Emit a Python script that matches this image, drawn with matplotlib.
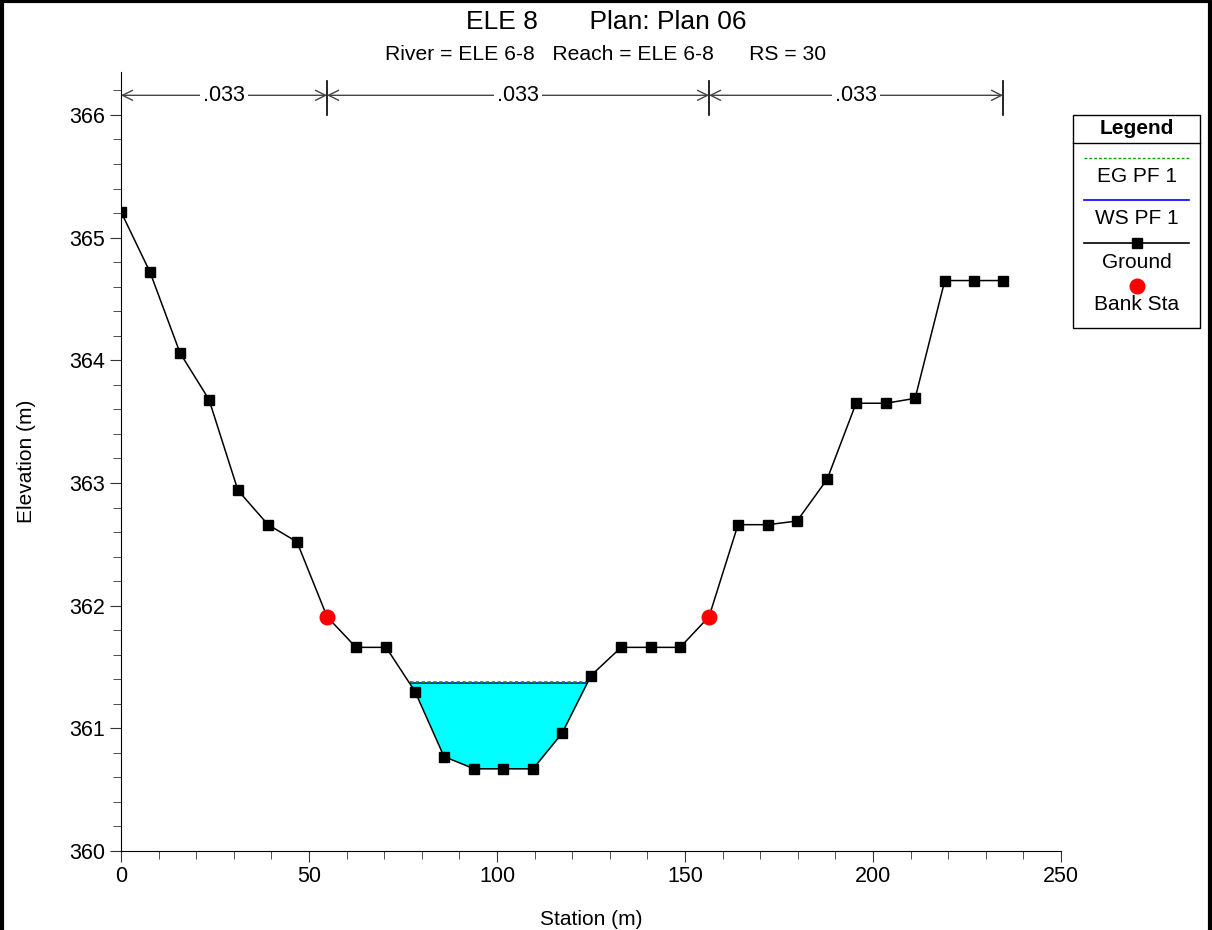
import numpy as np
import matplotlib.pyplot as plt
from matplotlib.lines import Line2D
from matplotlib.patches import Rectangle
from matplotlib.ticker import MultipleLocator

plt.rcParams['font.family'] = ['Liberation Sans', 'DejaVu Sans']

# ground profile (station, elevation)
station = [0.0, 7.7, 15.7, 23.4, 31.1, 39.1, 46.8, 54.8, 62.5, 70.5,
           78.2, 85.9, 93.9, 101.6, 109.6, 117.3, 125.0, 133.0, 141.0, 148.7,
           156.4, 164.1, 172.1, 179.8, 187.8, 195.5, 203.5, 211.2, 219.1, 226.9, 234.6]
elevation = [365.21, 364.72, 364.06, 363.68, 362.94, 362.66, 362.52, 361.91, 361.66, 361.66,
             361.30, 360.77, 360.67, 360.67, 360.67, 360.96, 361.43, 361.66, 361.66, 361.66,
             361.91, 362.66, 362.66, 362.69, 363.03, 363.65, 363.65, 363.69, 364.65, 364.65, 364.65]
bank_sta = [54.8, 156.4]
bank_elev = [361.91, 361.91]
ws_pf1 = 361.37
eg_pf1 = 361.38
mann_n = [".033", ".033", ".033"]

fig = plt.figure(figsize=(12.12, 9.3), dpi=100)
ax = fig.add_axes([121/1212, 79/930, 940/1212, 779/930])

x = np.array(station)
z = np.array(elevation)

# water fill between ground and WS
xf = np.linspace(x[0], x[-1], 4000)
zf = np.interp(xf, x, z)
wet = zf <= ws_pf1
ax.fill_between(xf, zf, ws_pf1, where=wet, color='#00FFFF', linewidth=0, zorder=1)
xw = xf[wet]
ax.plot([xw.min(), xw.max()], [ws_pf1, ws_pf1], color='#0000FF', lw=1.2, zorder=2)
ax.plot([xw.min(), xw.max()], [eg_pf1, eg_pf1], color='#00A000', lw=1.2, ls=(0, (2, 1.5)), zorder=3)

ax.plot(x, z, color='black', lw=1.1, marker='s', ms=6.5, zorder=4)
ax.plot(bank_sta, bank_elev, ls='none', marker='o', color='#FF0000', ms=10.5, zorder=5)

# Manning's n bars
bounds = [x[0], bank_sta[0], bank_sta[1], x[-1]]
y_n = 366.16
for b in bounds[1:]:
    ax.plot([b, b], [366.0, 366.28], color='black', lw=1.2, clip_on=False)
for i, n in enumerate(mann_n):
    a, b = bounds[i], bounds[i + 1]
    ax.annotate('', xy=(a, y_n), xytext=(b, y_n),
                arrowprops=dict(arrowstyle='<->', color='#444444', lw=1.0,
                                shrinkA=0, shrinkB=0, mutation_scale=18))
    ax.text((a + b) / 2, y_n, n, ha='center', va='center', fontsize=15.5,
            bbox=dict(facecolor='white', edgecolor='none', pad=2))

ax.set_xlim(0, 250)
ax.set_ylim(360, 366.35)
ax.xaxis.set_major_locator(MultipleLocator(50))
ax.xaxis.set_minor_locator(MultipleLocator(10))
ax.yaxis.set_major_locator(MultipleLocator(1))
ax.yaxis.set_minor_locator(MultipleLocator(0.2))
ax.tick_params(which='both', direction='out', labelsize=15.5, color='#333333')
ax.tick_params(which='major', length=8)
ax.tick_params(which='minor', length=6)
ax.tick_params(axis='x', pad=3)
for s in ['top', 'right']:
    ax.spines[s].set_visible(False)
ax.set_xlabel('Station (m)', fontsize=15, labelpad=16)
ax.set_ylabel('Elevation (m)', fontsize=15, labelpad=24)

fig.text(0.5, 908/930, 'ELE 8       Plan: Plan 06', ha='center', va='center', fontsize=19)
fig.text(0.5, 875/930, 'River = ELE 6-8   Reach = ELE 6-8      RS = 30', ha='center', va='center', fontsize=15.2)

# legend box drawn by hand (HEC-RAS style)
W, H = 1212, 930
def fx(px):
    return px / W
def fy(py):
    return 1 - py / H

fig.add_artist(Rectangle((fx(1073), fy(328)), fx(1200) - fx(1073), fy(115) - fy(328),
                         transform=fig.transFigure, fill=False, edgecolor='black', lw=1.0))
fig.add_artist(Line2D([fx(1073), fx(1200)], [fy(143), fy(143)], color='black', lw=1.0))
fig.text(fx(1137), fy(128), 'Legend', ha='center', va='center', fontsize=15, fontweight='bold')
fig.add_artist(Line2D([fx(1084), fx(1189)], [fy(158), fy(158)], color='#00A000', lw=1.0, ls=(0, (2, 1.5))))
fig.text(fx(1137), fy(177), 'EG PF 1', ha='center', va='center', fontsize=15)
fig.add_artist(Line2D([fx(1084), fx(1189)], [fy(200), fy(200)], color='#0000FF', lw=1.2))
fig.text(fx(1137), fy(219), 'WS PF 1', ha='center', va='center', fontsize=15)
fig.add_artist(Line2D([fx(1084), fx(1189)], [fy(243), fy(243)], color='black', lw=1.2))
fig.add_artist(Line2D([fx(1137)], [fy(243)], color='black', marker='s', ms=6.5, ls='none'))
fig.text(fx(1137), fy(262), 'Ground', ha='center', va='center', fontsize=15)
fig.add_artist(Line2D([fx(1137)], [fy(286)], color='#FF0000', marker='o', ms=10.5, ls='none'))
fig.text(fx(1137), fy(305), 'Bank Sta', ha='center', va='center', fontsize=15)

# outer frame
fig.add_artist(Line2D([fx(1.5), fx(1.5), fx(1210), fx(1210)], [0, fy(1.5), fy(1.5), 0],
                      color='black', lw=3))

fig.savefig('out.png', dpi=100)
